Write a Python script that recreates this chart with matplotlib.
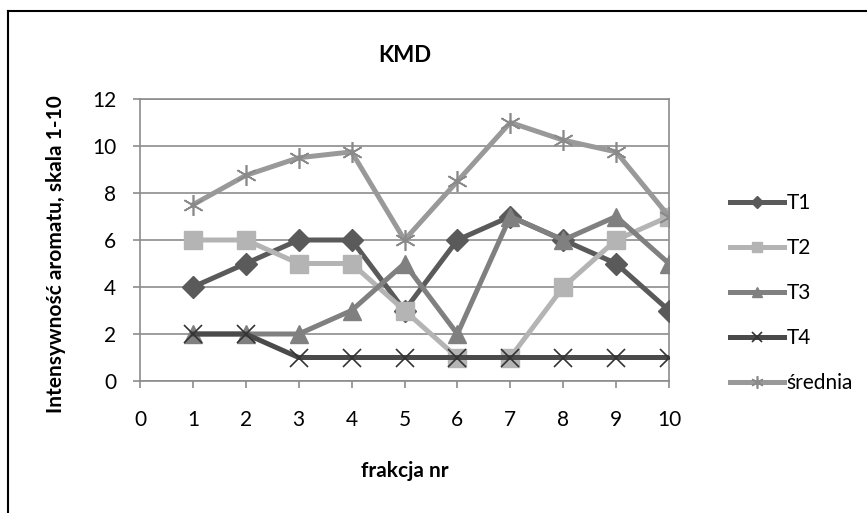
import numpy as np
import matplotlib
matplotlib.use("Agg")
import matplotlib.pyplot as plt

plt.rcParams['font.family'] = ['Lato', 'DejaVu Sans']

# data
fractions = [1, 2, 3, 4, 5, 6, 7, 8, 9, 10]
t1 = [4, 5, 6, 6, 3, 6, 7, 6, 5, 3]
t2 = [6, 6, 5, 5, 3, 1, 1, 4, 6, 7]
t3 = [2, 2, 2, 3, 5, 2, 7, 6, 7, 5]
t4 = [2, 2, 1, 1, 1, 1, 1, 1, 1, 1]
srednia = [7.5, 8.75, 9.5, 9.75, 6, 8.5, 11, 10.25, 9.75, 7]
x_ticks = [0, 1, 2, 3, 4, 5, 6, 7, 8, 9, 10]
y_ticks = [0, 2, 4, 6, 8, 10, 12]

fig = plt.figure(figsize=(8.67, 5.13), dpi=100)
ax = fig.add_axes([140 / 867, 1 - 381 / 513, 529 / 867, 282 / 513])

lw = 3.6
ax.plot(fractions, t1, color="#5a5a5a", lw=lw, marker="D", ms=11, label="T1", zorder=3)
ax.plot(fractions, t2, color="#b4b4b4", lw=lw, marker="s", ms=13, label="T2", zorder=3)
ax.plot(fractions, t3, color="#808080", lw=lw, marker="^", ms=13, label="T3", zorder=3)
ax.plot(fractions, t4, color="#4a4a4a", lw=lw, marker="x", ms=13, mew=1.2,
        mec="#333333", label="T4", zorder=3)
ax.plot(fractions, srednia, color="#999999", lw=lw, marker=(6, 2, 0), ms=15, mew=1.2,
        mec="#8a8a8a", label="średnia", zorder=3)

ax.set_xlim(0, 10)
ax.set_ylim(0, 12)
ax.set_xticks(x_ticks)
ax.set_yticks(y_ticks)
ax.grid(axis="y", color="#8c8c8c", lw=1.2, zorder=0)
for s in ax.spines.values():
    s.set_color("#8c8c8c")
    s.set_linewidth(1.2)
ax.tick_params(axis="both", colors="#8c8c8c", labelcolor="black", labelsize=15,
               length=5, width=1.2)
ax.tick_params(axis="x", pad=16)
ax.tick_params(axis="y", pad=12)

ax.set_title("KMD", fontsize=16, fontweight="bold", pad=27)
ax.set_xlabel("frakcja nr", fontsize=15, fontweight="bold", labelpad=22)
ax.set_ylabel("Intensywność aromatu, skala 1-10", fontsize=15, fontweight="bold")
ax.yaxis.set_label_coords(-0.14, 0.45)

ax.legend(loc="center left", bbox_to_anchor=(1.08, 0.312), frameon=False, fontsize=15,
          handlelength=2.6, handletextpad=0.1, labelspacing=1.2, markerscale=0.6)

# outer chart border (right/bottom edges run off the canvas)
fig.add_artist(plt.Line2D([8 / 867, 8 / 867], [0, 1 - 11 / 513], color="black", lw=1.5,
                          transform=fig.transFigure))
fig.add_artist(plt.Line2D([8 / 867, 1], [1 - 11 / 513, 1 - 11 / 513], color="black", lw=1.5,
                          transform=fig.transFigure))

fig.savefig("out.png", dpi=100)
